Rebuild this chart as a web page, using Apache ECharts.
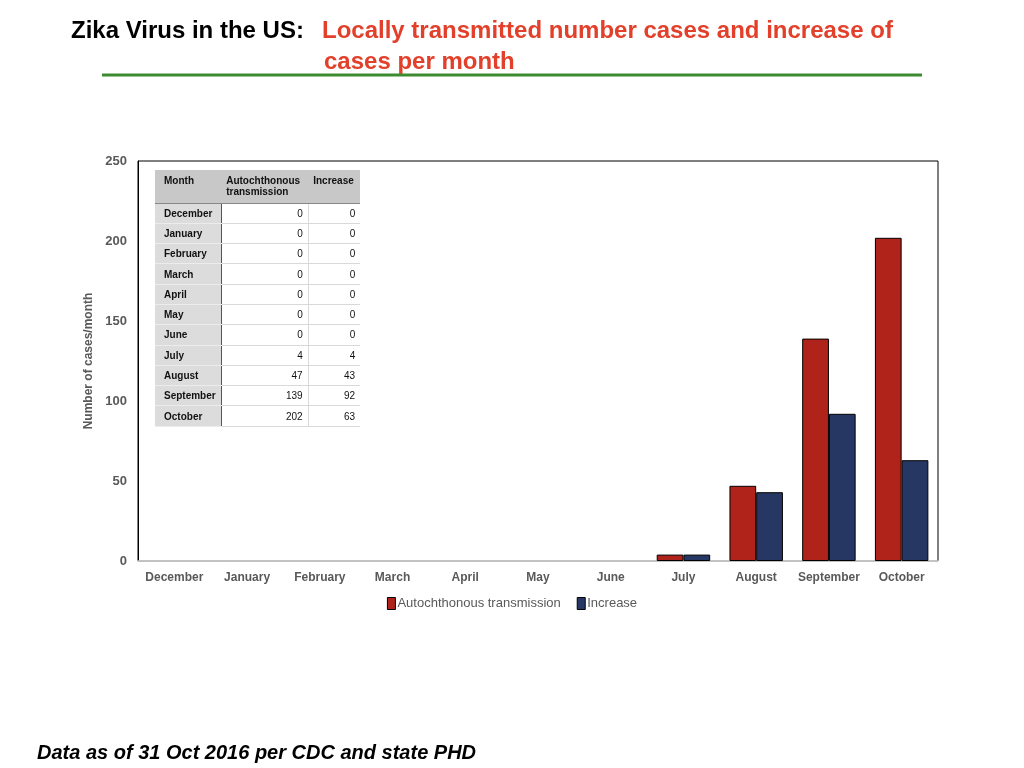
<!DOCTYPE html>
<html>
<head>
<meta charset="utf-8">
<script src="https://cdn.jsdelivr.net/npm/echarts@6/dist/echarts.min.js"></script>
<style>
  html, body { margin: 0; padding: 0; background: #fff; }
  #wrap { position: relative; width: 1024px; height: 768px; }
  #chart { position: absolute; left: 0; top: 0; width: 1024px; height: 768px; }
  #tbl { position: absolute; left: 155px; top: 170px; border-collapse: collapse;
         font-family: "Liberation Sans", Arial, sans-serif; font-size: 10px; color: #111; z-index: 5; }
  #tbl th, #tbl td { padding: 0 5px; box-sizing: border-box; }
  #tbl th { background: #c8c8c8; font-weight: bold; text-align: left; vertical-align: top; padding-top: 5px; height: 33px; line-height: 11px; }
  #tbl th.m { padding-left: 9px; }
  #tbl td { height: 20.3px; border-bottom: 1px solid #d9d9d9; background: #fff; text-align: right; }
  #tbl td.m { background: #dcdcdc; font-weight: bold; text-align: left; padding-left: 9px; border-right: 1px solid #555; border-bottom: 1px solid #ececec; }
  #tbl td.v1 { border-right: 1px solid #d9d9d9; }
  #tbl tr.h th { border-bottom: 1px solid #888; }
</style>
</head>
<body>
<div id="wrap">
  <div id="chart"></div>
  <table id="tbl"></table>
</div>
<script>
const months = ['December','January','February','March','April','May','June','July','August','September','October'];
const autochthonous = [0, 0, 0, 0, 0, 0, 0, 4, 47, 139, 202];
const increase = [0, 0, 0, 0, 0, 0, 0, 4, 43, 92, 63];
const seriesNames = ['Autochthonous transmission', 'Increase'];
const tableHeaders = ['Month', 'Autochthonous<br>transmission', 'Increase'];
const yTicks = [0, 50, 100, 150, 200, 250];

// Build data table
const tbl = document.getElementById('tbl');
let html = '<tr class="h"><th class="m" style="width:66px">' + tableHeaders[0] + '</th><th style="width:87px">' + tableHeaders[1] + '</th><th style="width:52px">' + tableHeaders[2] + '</th></tr>';
months.forEach((m, i) => {
  html += '<tr><td class="m">' + m + '</td><td class="v1">' + autochthonous[i] + '</td><td>' + increase[i] + '</td></tr>';
});
tbl.innerHTML = html;

// zero values get no visible outline
const toBars = arr => arr.map(v => ({ value: v, itemStyle: v === 0 ? { borderWidth: 0 } : {} }));

const chart = echarts.init(document.getElementById('chart'), null, { renderer: 'canvas' });
const FONT = '"Liberation Sans", Arial, sans-serif';
const option = {
  animation: false,
  backgroundColor: '#fff',
  textStyle: { fontFamily: FONT },
  graphic: [
    { type: 'text', position: [71, 19], style: { text: 'Zika Virus in the US:', fill: '#000', font: 'bold 24px ' + FONT } },
    { type: 'text', position: [322, 19], style: { text: 'Locally transmitted number cases and increase of', fill: '#e2402a', font: 'bold 24px ' + FONT } },
    { type: 'text', position: [324, 50], style: { text: 'cases per month', fill: '#e2402a', font: 'bold 24px ' + FONT } },
    { type: 'rect', shape: { x: 102, y: 73.5, width: 820, height: 3 }, style: { fill: '#3d8b2f' } },
    { type: 'text', position: [37, 743], style: { text: 'Data as of 31 Oct 2016 per CDC and state PHD', fill: '#000', font: 'italic bold 20px ' + FONT } }
  ],
  legend: {
    data: seriesNames,
    bottom: 768 - 615,
    left: 'center',
    icon: 'rect',
    itemWidth: 8,
    itemHeight: 12,
    itemGap: 16,
    itemStyle: { borderColor: '#000', borderWidth: 1 },
    textStyle: { color: '#595959', fontSize: 13, fontFamily: FONT, padding: [0, 0, 0, -3] }
  },
  grid: { left: 138, right: 86, top: 161, bottom: 207, show: true, borderColor: '#000', borderWidth: 1, backgroundColor: 'transparent' },
  xAxis: {
    type: 'category', data: months,
    axisLine: { show: true, lineStyle: { color: '#d9d9d9', width: 1.5 } },
    axisTick: { show: false },
    axisLabel: { color: '#595959', fontWeight: 'bold', fontSize: 12, margin: 11, fontFamily: FONT, interval: 0 }
  },
  yAxis: {
    type: 'value', min: yTicks[0], max: yTicks[yTicks.length - 1], interval: 50,
    name: 'Number of cases/month', nameLocation: 'middle', nameGap: 34,
    nameTextStyle: { color: '#595959', fontWeight: 'bold', fontSize: 12, fontFamily: FONT },
    axisLine: { show: true, lineStyle: { color: '#000', width: 1 } },
    axisTick: { show: false },
    splitLine: { show: false },
    axisLabel: { color: '#595959', fontWeight: 'bold', fontSize: 13, margin: 11, fontFamily: FONT }
  },
  series: [
    {
      name: seriesNames[0], type: 'bar', data: toBars(autochthonous),
      barGap: '0%', barCategoryGap: '26.5%',
      itemStyle: { color: '#b0231b', borderColor: '#000', borderWidth: 1 }
    },
    {
      name: seriesNames[1], type: 'bar', data: toBars(increase),
      barGap: '0%', barCategoryGap: '26.5%',
      itemStyle: { color: '#253762', borderColor: '#000', borderWidth: 1 }
    }
  ]
};
chart.setOption(option);
</script>
</body>
</html>
